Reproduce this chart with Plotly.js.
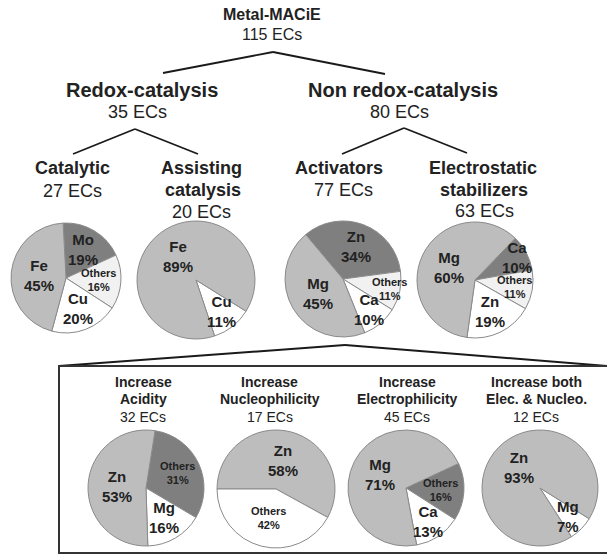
<!DOCTYPE html>
<html>
<head>
<meta charset="utf-8">
<script src="https://cdn.plot.ly/plotly-3.0.1.min.js"></script>
<style>html,body{margin:0;padding:0;background:#fff;}#chart{width:607px;height:558px;}</style>
</head>
<body>
<div id="chart"></div>
<script>
// ---- Data ----
const catalyticLabels = ['Mo', 'Others', 'Cu', 'Fe'];
const catalyticValues = [19, 16, 20, 45];
const assistingLabels = ['Cu', 'Fe'];
const assistingValues = [11, 89];
const activatorsLabels = ['Zn', 'Others', 'Ca', 'Mg'];
const activatorsValues = [34, 11, 10, 45];
const electroLabels = ['Ca', 'Others', 'Zn', 'Mg'];
const electroValues = [10, 11, 19, 60];
const acidityLabels = ['Others', 'Mg', 'Zn'];
const acidityValues = [31, 16, 53];
const nucleoLabels = ['Zn', 'Others'];
const nucleoValues = [58, 42];
const electrophLabels = ['Others', 'Ca', 'Mg'];
const electrophValues = [16, 13, 71];
const bothLabels = ['Mg', 'Zn'];
const bothValues = [7, 93];

// ---- Styling ----
const W = 607, H = 558;
const LIGHT = '#bdbdbd', DARK = '#7f7f7f', PALE = '#f1f1f1', WHITE = '#ffffff';
const FONT = 'Liberation Sans, Arial, sans-serif';
const TXT = '#222222';

const traces = [];
const annotations = [];

function dom(cx, cy, r) {
  return {x: [(cx - r) / W, (cx + r) / W], y: [1 - (cy + r) / H, 1 - (cy - r) / H]};
}
// radial placement of a slice label, as a fraction of the radius, by slice size
function labelFrac(shares, i) {
  const s = shares[i];
  if (s >= 40) return 0.5;
  if (s >= 15) return 0.6;
  // two small neighbouring slices: push the first one further out
  if (i + 1 < shares.length && shares[i + 1] < 15) return 0.82;
  return 0.69;
}
function pie(labels, values, colors, rotation, cx, cy, r) {
  traces.push({
    type: 'pie', labels: labels, values: values, sort: false, direction: 'clockwise',
    rotation: rotation, domain: dom(cx, cy, r),
    marker: {colors: colors, line: {color: '#8a8a8a', width: 1}},
    textinfo: 'none', hoverinfo: 'none', showlegend: false
  });
  // slice labels, placed on each slice's mid-angle
  const total = values.reduce((a, b) => a + b, 0);
  const shares = values.map(v => v / total * 100);
  let acc = 0;
  labels.forEach((lab, i) => {
    const mid = (rotation + (acc + values[i] / 2) / total * 360) * Math.PI / 180;
    acc += values[i];
    const d = r * labelFrac(shares, i);
    const px = cx + d * Math.sin(mid), py = cy - d * Math.cos(mid);
    const sz = lab === 'Others' ? 11 : 15;
    annotations.push({
      text: '<b>' + lab + '</b><br><b>' + values[i] + '%</b>',
      x: px / W, y: 1 - py / H, xref: 'paper', yref: 'paper', showarrow: false,
      xanchor: 'center', yanchor: 'middle',
      font: {family: FONT, size: sz, color: TXT}
    });
  });
}

pie(catalyticLabels, catalyticValues, [DARK, PALE, WHITE, LIGHT], -3, 66, 278, 55);
pie(assistingLabels, assistingValues, [WHITE, LIGHT], 122, 196, 280, 59);
pie(activatorsLabels, activatorsValues, [DARK, PALE, WHITE, LIGHT], -40, 343, 279, 58);
pie(electroLabels, electroValues, [DARK, PALE, WHITE, LIGHT], 44, 475, 280, 58);
pie(acidityLabels, acidityValues, [DARK, WHITE, LIGHT], 9, 146, 488, 58);
pie(nucleoLabels, nucleoValues, [LIGHT, WHITE], -90, 276, 489, 59);
pie(electrophLabels, electrophValues, [DARK, WHITE, LIGHT], 65, 406, 488, 58);
pie(bothLabels, bothValues, [WHITE, LIGHT], 122, 540, 488, 58);

function ann(text, x, y, size, bold) {
  return {text: bold ? '<b>' + text + '</b>' : text, x: x / W, y: 1 - y / H, xref: 'paper', yref: 'paper',
    showarrow: false, xanchor: 'center', yanchor: 'middle',
    font: {family: FONT, size: size, color: TXT}};
}
annotations.push(
  ann('Metal-MACiE', 272, 15, 16, true), ann('115 ECs', 272, 35, 16, false),
  ann('Redox-catalysis', 142, 90, 20, true), ann('35 ECs', 137, 112, 18, false),
  ann('Non redox-catalysis', 403, 90, 20, true), ann('80 ECs', 400, 112, 18, false),
  ann('Catalytic', 72, 168, 18, true), ann('27 ECs', 72, 191, 18, false),
  ann('Assisting', 201, 168, 18, true), ann('catalysis', 203, 190, 18, true), ann('20 ECs', 201, 212, 18, false),
  ann('Activators', 339, 168, 18, true), ann('77 ECs', 343, 190, 18, false),
  ann('Electrostatic', 483, 168, 18, true), ann('stabilizers', 484, 190, 18, true), ann('63 ECs', 484, 211, 18, false),
  ann('Increase', 143, 382, 14, true), ann('Acidity', 143, 399, 14, true), ann('32 ECs', 143, 417, 14, false),
  ann('Increase', 269, 382, 14, true), ann('Nucleophilicity', 270, 399, 14, true), ann('17 ECs', 270, 417, 14, false),
  ann('Increase', 407, 382, 14, true), ann('Electrophilicity', 407, 399, 14, true), ann('45 ECs', 407, 417, 14, false),
  ann('Increase both', 536, 382, 14, true), ann('Elec. &amp; Nucleo.', 536, 399, 14, true), ann('12 ECs', 536, 417, 14, false)
);

function seg(x0, y0, x1, y1, w) {
  return {type: 'line', xref: 'paper', yref: 'paper', x0: x0 / W, y0: 1 - y0 / H, x1: x1 / W, y1: 1 - y1 / H,
    line: {color: '#1a1a1a', width: w || 1.8}};
}
const shapes = [
  seg(273, 52, 163, 73), seg(273, 52, 385, 74),
  seg(135, 129, 73, 154), seg(135, 129, 198, 154),
  seg(404, 128, 342, 154), seg(404, 128, 467, 153),
  seg(345, 345, 59, 366, 2), seg(345, 345, 607, 366, 2),
  {type: 'rect', xref: 'paper', yref: 'paper', x0: 59 / W, y0: 1 - 553 / H, x1: 612 / W, y1: 1 - 366 / H,
   line: {color: '#333333', width: 2}}
];

Plotly.newPlot('chart', traces, {
  width: W, height: H, margin: {l: 0, r: 0, t: 0, b: 0},
  paper_bgcolor: '#ffffff', plot_bgcolor: '#ffffff', showlegend: false,
  annotations: annotations, shapes: shapes
}, {staticPlot: true});
</script>
</body>
</html>
